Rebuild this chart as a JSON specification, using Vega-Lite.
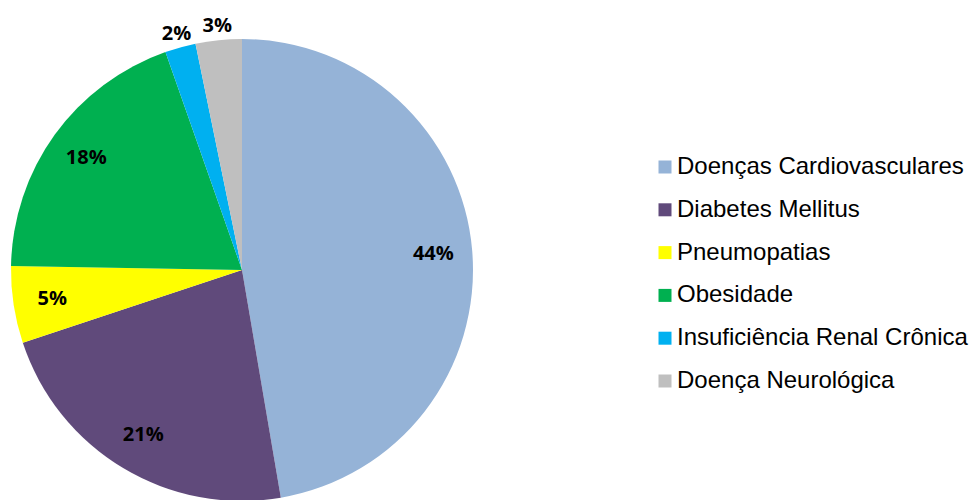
{
  "$schema": "https://vega.github.io/schema/vega-lite/v6.json",
  "autosize": {"type": "none"},
  "padding": {"top": 40, "left": 0, "right": 488, "bottom": 0},
  "width": 484,
  "height": 460,
  "background": "white",
  "config": {"view": {"stroke": null}},
  "data": {
    "values": [
      {"categoria": "Doenças Cardiovasculares", "valor": 44, "rotulo": "44%", "ordem": 1, "fora": false},
      {"categoria": "Diabetes Mellitus", "valor": 21, "rotulo": "21%", "ordem": 2, "fora": false},
      {"categoria": "Pneumopatias", "valor": 5, "rotulo": "5%", "ordem": 3, "fora": false},
      {"categoria": "Obesidade", "valor": 18, "rotulo": "18%", "ordem": 4, "fora": false},
      {"categoria": "Insuficiência Renal Crônica", "valor": 2, "rotulo": "2%", "ordem": 5, "fora": true},
      {"categoria": "Doença Neurológica", "valor": 3, "rotulo": "3%", "ordem": 6, "fora": true}
    ]
  },
  "transform": [
    {"stack": "valor", "groupby": [], "sort": [{"field": "ordem", "order": "ascending"}], "as": ["ini", "fim"]},
    {"calculate": "(datum.ini + datum.fim) / 2", "as": "meio"}
  ],
  "layer": [
    {
      "mark": {"type": "arc", "outerRadius": 231},
      "encoding": {
        "theta": {"field": "ini", "type": "quantitative", "scale": {"domain": [0, 93]}},
        "theta2": {"field": "fim"},
        "color": {
          "field": "categoria",
          "type": "nominal",
          "sort": null,
          "scale": {
            "domain": ["Doenças Cardiovasculares", "Diabetes Mellitus", "Pneumopatias", "Obesidade", "Insuficiência Renal Crônica", "Doença Neurológica"],
            "range": ["#95B3D7", "#604A7B", "#FFFF00", "#00B050", "#00B0F0", "#BFBFBF"]
          },
          "legend": {
            "title": null,
            "orient": "none",
            "legendX": 653,
            "legendY": 115,
            "symbolType": "square",
            "symbolSize": 169,
            "symbolStrokeWidth": 0,
            "labelFont": "Liberation Sans",
            "labelFontSize": 24,
            "labelColor": "#000000",
            "labelOffset": 0,
            "labelLimit": 400,
            "rowPadding": 18.8,
            "padding": 0
          }
        }
      }
    },
    {
      "transform": [{"filter": "!datum.fora"}],
      "mark": {"type": "text", "radius": 192, "font": "Open Sans", "fontWeight": "bold", "fontSize": 20, "color": "#000000"},
      "encoding": {
        "theta": {"field": "meio", "type": "quantitative", "scale": {"domain": [0, 93]}},
        "text": {"field": "rotulo", "type": "nominal"}
      }
    },
    {
      "transform": [{"filter": "datum.fora"}],
      "mark": {"type": "text", "radius": 245, "font": "Open Sans", "fontWeight": "bold", "fontSize": 20, "color": "#000000"},
      "encoding": {
        "theta": {"field": "meio", "type": "quantitative", "scale": {"domain": [0, 93]}},
        "text": {"field": "rotulo", "type": "nominal"}
      }
    }
  ]
}
